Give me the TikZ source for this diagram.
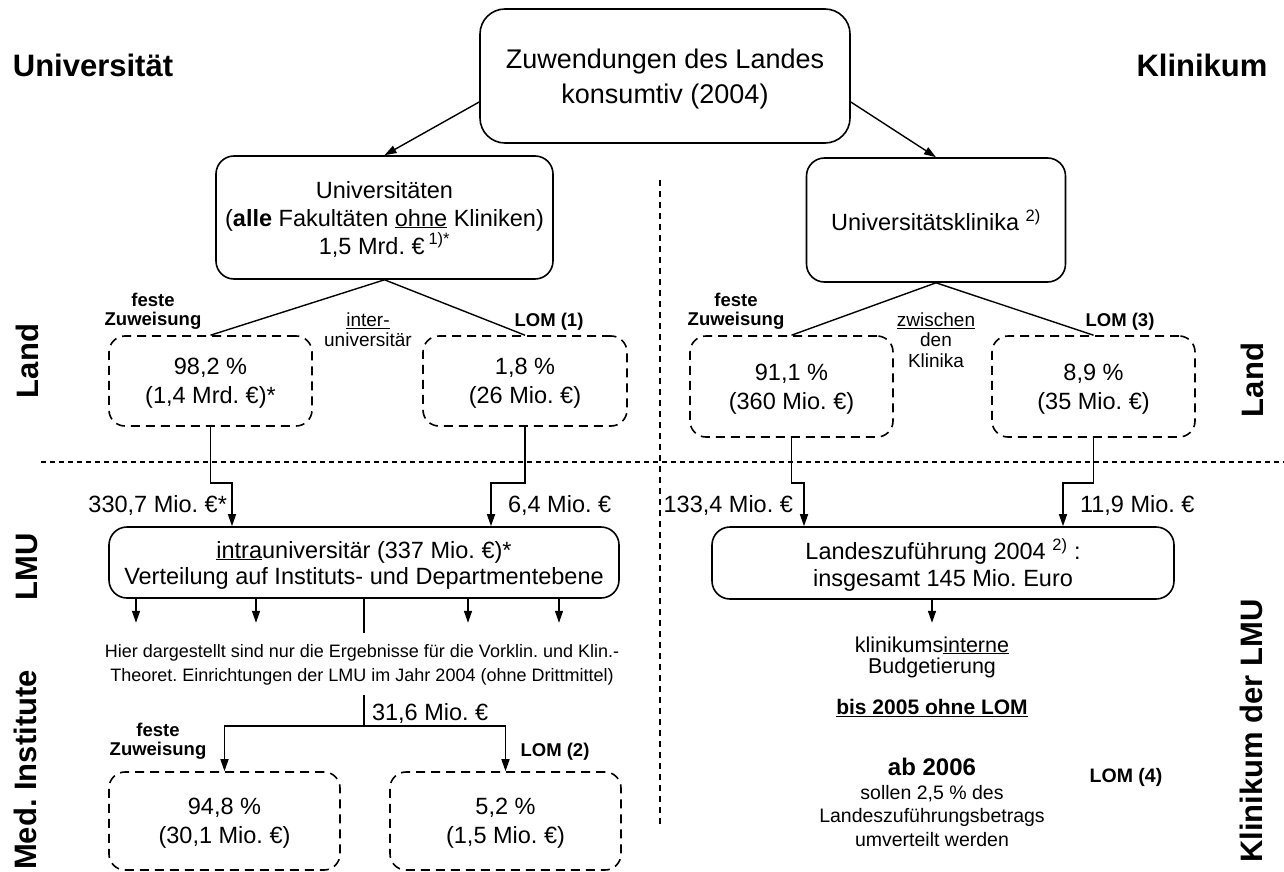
\documentclass[tikz,border=0pt]{standalone}
\usepackage{fontspec}
\setmainfont{Liberation Sans}
\usetikzlibrary{arrows.meta}
\frenchspacing

\begin{document}
\begin{tikzpicture}[x=1pt,y=-1pt,line width=1.4pt,
  >={Triangle[length=12pt,width=8pt]},
  box/.style={draw,rounded corners=18pt,align=center,line width=1.6pt,text depth=0pt,font=\fontsize{23.5}{28}\selectfont},
  dbox/.style={box,dash pattern=on 9pt off 6pt,rounded corners=16pt,font=\fontsize{23.5}{29}\selectfont},
  head/.style={font=\fontsize{31}{36}\selectfont\bfseries},
  lbl/.style={font=\fontsize{18.5}{19}\selectfont\bfseries,align=center},
  note/.style={font=\fontsize{19}{20}\selectfont,align=center},
  amt/.style={font=\fontsize{23.5}{28}\selectfont}]
\useasboundingbox (0,0) rectangle (1284,872);

\node[head] (uniH) at (93,65) {Universität};
\node[head] (klinH) at (1202,65) {Klinikum};
\node[head,rotate=90] (landL) at (27,361) {Land};
\node[head,rotate=90] (landR) at (1252,380) {Land};
\node[head,rotate=90] (lmu) at (27,567) {LMU};
\node[head,rotate=90] (medinst) at (25,770) {Med. Institute};
\node[head,rotate=90] (klinlmu) at (1251,731) {Klinikum der LMU};

\draw[line width=1.2pt,dash pattern=on 5pt off 4pt] (41,462) -- (1284,462);
\draw[line width=1.2pt,dash pattern=on 6pt off 5pt] (660,180) -- (660,827);

\node[box,rounded corners=25pt,minimum width=370pt,minimum height=134pt,font=\fontsize{27}{35}\selectfont] (top) at (665,76)
  {Zuwendungen des Landes\\konsumtiv (2004)};
\node[box,minimum width=337pt,minimum height=123pt] (uni) at (384.5,217.5)
  {Universitäten\\(\textbf{alle} Fakultäten \underline{ohne} Kliniken)\\1,5 Mrd. €\,\textsuperscript{1)*}};
\node[box,minimum width=259pt,minimum height=124pt] (klin) at (936,220)
  {Universitätsklinika \textsuperscript{2)}};

\node[dbox,minimum width=203pt,minimum height=90pt] (ufest) at (210.5,381) {98,2 \%\\(1,4 Mrd. €)*};
\node[dbox,minimum width=204pt,minimum height=90pt] (ulom) at (525,381) {1,8 \%\\(26 Mio. €)};
\node[dbox,minimum width=203pt,minimum height=101pt] (kfest) at (791.5,386.5) {91,1 \%\\(360 Mio. €)};
\node[dbox,minimum width=203pt,minimum height=101pt] (klom) at (1093.5,386.5) {8,9 \%\\(35 Mio. €)};

\node[lbl] (ufestL) at (153,311) {feste\\Zuweisung};
\node[lbl] (ulomL) at (549,322) {LOM (1)};
\node[note] (inter) at (368,330) {\underline{inter-}\\universitär};
\node[lbl] (kfestL) at (736,311) {feste\\Zuweisung};
\node[note,font=\fontsize{19}{20.5}\selectfont] (zwischen) at (936,340) {\underline{zwischen}\\den\\Klinika};
\node[lbl] (klomL) at (1120,322) {LOM (3)};

\draw[->] ([yshift=-26pt]top.west) -- (uni.north);
\draw[->] ([yshift=-26pt]top.east) -- (klin.north);
\draw (uni.south) -- (ufest.north);
\draw (uni.south) -- (ulom.north);
\draw (klin.south) -- (kfest.north);
\draw (klin.south) -- (klom.north);

\node[box,minimum width=510pt,minimum height=71pt,font=\fontsize{23.5}{26}\selectfont] (intra) at (364,562.5)
  {\underline{intra}universitär (337 Mio. €)*\\Verteilung auf Instituts- und Departmentebene};
\node[box,minimum width=462pt,minimum height=72pt,font=\fontsize{23.5}{27}\selectfont] (landz) at (943,563)
  {Landeszuführung 2004 \textsuperscript{2)} :\\insgesamt 145 Mio. Euro};

\draw[->] (ufest.south) -- ++(0,56) -| ([xshift=-132pt]intra.north);
\draw[->] (ulom.south) -- ++(0,56) -| ([xshift=127pt]intra.north);
\draw[->] (kfest.south) -- ++(0,45) -| ([xshift=-139pt]landz.north);
\draw[->] (klom.south) -- ++(0,45) -| ([xshift=120pt]landz.north);

\node[amt,anchor=east] (a330) at (231,505) {330,7 Mio. €*};
\node[amt,anchor=west] (a64) at (504,505) {6,4 Mio. €};
\node[amt,anchor=east] (a133) at (797,505) {133,4 Mio. €};
\node[amt,anchor=west] (a119) at (1076,505) {11,9 Mio. €};

\foreach \dx in {-228,-108,104,195}
  \draw[->] ([xshift=\dx pt]intra.south) -- ++(0,24);
\draw (intra.south) -- ++(0,34);

\node[note,font=\fontsize{18}{24}\selectfont] (hier) at (362,665)
  {Hier dargestellt sind nur die Ergebnisse für die Vorklin. und Klin.-\\Theoret. Einrichtungen der LMU im Jahr 2004 (ohne Drittmittel)};

\node[dbox,minimum width=231pt,minimum height=98pt] (mfest) at (224.5,821) {94,8 \%\\(30,1 Mio. €)};
\node[dbox,minimum width=231pt,minimum height=98pt] (mlom) at (505.5,821) {5,2 \%\\(1,5 Mio. €)};
\coordinate (split) at (364,726);
\draw (364,695) -- (split);
\draw[->] (split) -| (mfest.north);
\draw[->] (split) -| (mlom.north);
\node[amt,anchor=west] (a316) at (368,713) {31,6 Mio. €};
\node[lbl] (mfestL) at (158,741) {feste\\Zuweisung};
\node[lbl] (mlomL) at (555,752) {LOM (2)};

\node[note,font=\fontsize{21.5}{21}\selectfont] (intern) at (932,657) {klinikums\underline{interne}\\Budgetierung};
\draw[->] (landz.south -| intern) -- ++(0,23);
\node[lbl,font=\fontsize{21}{24}\selectfont\bfseries] (bis) at (932,708) {\underline{bis 2005 ohne LOM}};
\node[lbl,font=\fontsize{24}{26}\selectfont\bfseries] (ab) at (932,767) {ab 2006};
\node[note,font=\fontsize{19.5}{23.5}\selectfont] (sollen) at (932,816) {sollen 2,5 \% des\\Landeszuführungsbetrags\\umverteilt werden};
\node[lbl,font=\fontsize{19.5}{20}\selectfont\bfseries] (lom4) at (1126,777) {LOM (4)};
\end{tikzpicture}
\end{document}
